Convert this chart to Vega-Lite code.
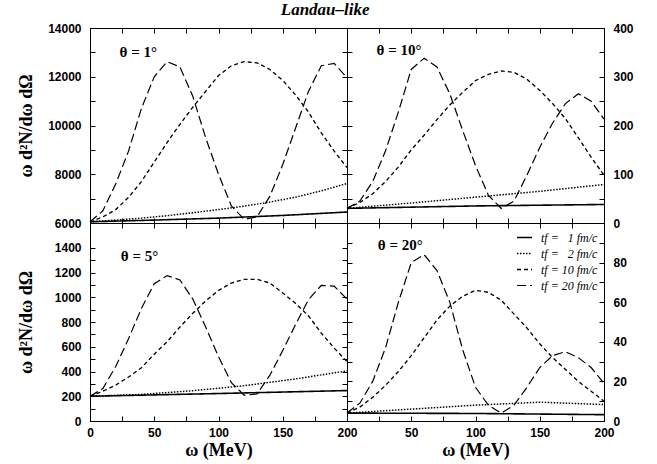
{
  "$schema": "https://vega.github.io/schema/vega-lite/v6.json",
  "padding": {"left": 16, "top": 0, "right": 5, "bottom": 5},
  "title": {"text": "Landau–like", "font": "Liberation Serif", "fontSize": 17, "fontWeight": "bold", "fontStyle": "italic", "color": "black", "anchor": "middle", "offset": 3},
  "datasets": {
    "d": [
      {"p":"1","tf":"20","w":0,"v":6050},{"p":"1","tf":"20","w":10,"v":6500},{"p":"1","tf":"20","w":20,"v":7600},{"p":"1","tf":"20","w":30,"v":8950},{"p":"1","tf":"20","w":40,"v":10700},{"p":"1","tf":"20","w":50,"v":12000},{"p":"1","tf":"20","w":60,"v":12620},{"p":"1","tf":"20","w":70,"v":12400},{"p":"1","tf":"20","w":80,"v":11200},{"p":"1","tf":"20","w":90,"v":9500},{"p":"1","tf":"20","w":100,"v":8000},{"p":"1","tf":"20","w":110,"v":6700},{"p":"1","tf":"20","w":120,"v":6150},{"p":"1","tf":"20","w":130,"v":6250},{"p":"1","tf":"20","w":140,"v":7100},{"p":"1","tf":"20","w":150,"v":8400},{"p":"1","tf":"20","w":160,"v":9900},{"p":"1","tf":"20","w":170,"v":11400},{"p":"1","tf":"20","w":180,"v":12450},{"p":"1","tf":"20","w":190,"v":12550},{"p":"1","tf":"20","w":200,"v":11950},
      {"p":"1","tf":"10","w":0,"v":6050},{"p":"1","tf":"10","w":10,"v":6250},{"p":"1","tf":"10","w":20,"v":6550},{"p":"1","tf":"10","w":30,"v":7050},{"p":"1","tf":"10","w":40,"v":7700},{"p":"1","tf":"10","w":50,"v":8500},{"p":"1","tf":"10","w":60,"v":9300},{"p":"1","tf":"10","w":70,"v":10050},{"p":"1","tf":"10","w":80,"v":10750},{"p":"1","tf":"10","w":90,"v":11400},{"p":"1","tf":"10","w":100,"v":12050},{"p":"1","tf":"10","w":110,"v":12450},{"p":"1","tf":"10","w":120,"v":12620},{"p":"1","tf":"10","w":130,"v":12570},{"p":"1","tf":"10","w":140,"v":12300},{"p":"1","tf":"10","w":150,"v":11850},{"p":"1","tf":"10","w":160,"v":11250},{"p":"1","tf":"10","w":170,"v":10550},{"p":"1","tf":"10","w":180,"v":9700},{"p":"1","tf":"10","w":190,"v":8950},{"p":"1","tf":"10","w":200,"v":8270},
      {"p":"1","tf":"2","w":0,"v":6050},{"p":"1","tf":"2","w":20,"v":6120},{"p":"1","tf":"2","w":40,"v":6200},{"p":"1","tf":"2","w":60,"v":6300},{"p":"1","tf":"2","w":80,"v":6420},{"p":"1","tf":"2","w":100,"v":6550},{"p":"1","tf":"2","w":120,"v":6690},{"p":"1","tf":"2","w":140,"v":6860},{"p":"1","tf":"2","w":160,"v":7060},{"p":"1","tf":"2","w":180,"v":7320},{"p":"1","tf":"2","w":200,"v":7620},
      {"p":"1","tf":"1","w":0,"v":6050},{"p":"1","tf":"1","w":50,"v":6120},{"p":"1","tf":"1","w":100,"v":6200},{"p":"1","tf":"1","w":150,"v":6310},{"p":"1","tf":"1","w":200,"v":6450},

      {"p":"10","tf":"20","w":0,"v":30},{"p":"10","tf":"20","w":10,"v":45},{"p":"10","tf":"20","w":20,"v":85},{"p":"10","tf":"20","w":30,"v":148},{"p":"10","tf":"20","w":40,"v":228},{"p":"10","tf":"20","w":50,"v":315},{"p":"10","tf":"20","w":60,"v":338},{"p":"10","tf":"20","w":70,"v":320},{"p":"10","tf":"20","w":80,"v":265},{"p":"10","tf":"20","w":90,"v":190},{"p":"10","tf":"20","w":100,"v":118},{"p":"10","tf":"20","w":110,"v":57},{"p":"10","tf":"20","w":120,"v":30},{"p":"10","tf":"20","w":130,"v":45},{"p":"10","tf":"20","w":140,"v":98},{"p":"10","tf":"20","w":150,"v":155},{"p":"10","tf":"20","w":160,"v":205},{"p":"10","tf":"20","w":170,"v":245},{"p":"10","tf":"20","w":180,"v":265},{"p":"10","tf":"20","w":190,"v":250},{"p":"10","tf":"20","w":200,"v":213},
      {"p":"10","tf":"10","w":0,"v":30},{"p":"10","tf":"10","w":10,"v":42},{"p":"10","tf":"10","w":20,"v":60},{"p":"10","tf":"10","w":30,"v":85},{"p":"10","tf":"10","w":40,"v":115},{"p":"10","tf":"10","w":50,"v":150},{"p":"10","tf":"10","w":60,"v":180},{"p":"10","tf":"10","w":70,"v":212},{"p":"10","tf":"10","w":80,"v":242},{"p":"10","tf":"10","w":90,"v":268},{"p":"10","tf":"10","w":100,"v":292},{"p":"10","tf":"10","w":110,"v":305},{"p":"10","tf":"10","w":120,"v":312},{"p":"10","tf":"10","w":130,"v":309},{"p":"10","tf":"10","w":140,"v":295},{"p":"10","tf":"10","w":150,"v":272},{"p":"10","tf":"10","w":160,"v":245},{"p":"10","tf":"10","w":170,"v":214},{"p":"10","tf":"10","w":180,"v":175},{"p":"10","tf":"10","w":190,"v":135},{"p":"10","tf":"10","w":200,"v":98},
      {"p":"10","tf":"2","w":0,"v":30},{"p":"10","tf":"2","w":50,"v":41},{"p":"10","tf":"2","w":100,"v":53},{"p":"10","tf":"2","w":150,"v":65},{"p":"10","tf":"2","w":200,"v":79},
      {"p":"10","tf":"1","w":0,"v":30},{"p":"10","tf":"1","w":100,"v":35},{"p":"10","tf":"1","w":200,"v":38},

      {"p":"5","tf":"20","w":0,"v":200},{"p":"5","tf":"20","w":10,"v":262},{"p":"5","tf":"20","w":20,"v":440},{"p":"5","tf":"20","w":30,"v":665},{"p":"5","tf":"20","w":40,"v":910},{"p":"5","tf":"20","w":50,"v":1110},{"p":"5","tf":"20","w":60,"v":1175},{"p":"5","tf":"20","w":70,"v":1140},{"p":"5","tf":"20","w":80,"v":985},{"p":"5","tf":"20","w":90,"v":760},{"p":"5","tf":"20","w":100,"v":520},{"p":"5","tf":"20","w":110,"v":310},{"p":"5","tf":"20","w":120,"v":208},{"p":"5","tf":"20","w":130,"v":218},{"p":"5","tf":"20","w":140,"v":370},{"p":"5","tf":"20","w":150,"v":570},{"p":"5","tf":"20","w":160,"v":780},{"p":"5","tf":"20","w":170,"v":980},{"p":"5","tf":"20","w":180,"v":1096},{"p":"5","tf":"20","w":190,"v":1090},{"p":"5","tf":"20","w":200,"v":985},
      {"p":"5","tf":"10","w":0,"v":200},{"p":"5","tf":"10","w":10,"v":240},{"p":"5","tf":"10","w":20,"v":290},{"p":"5","tf":"10","w":30,"v":355},{"p":"5","tf":"10","w":40,"v":430},{"p":"5","tf":"10","w":50,"v":540},{"p":"5","tf":"10","w":60,"v":640},{"p":"5","tf":"10","w":70,"v":760},{"p":"5","tf":"10","w":80,"v":870},{"p":"5","tf":"10","w":90,"v":970},{"p":"5","tf":"10","w":100,"v":1055},{"p":"5","tf":"10","w":110,"v":1115},{"p":"5","tf":"10","w":120,"v":1145},{"p":"5","tf":"10","w":130,"v":1145},{"p":"5","tf":"10","w":140,"v":1115},{"p":"5","tf":"10","w":150,"v":1035},{"p":"5","tf":"10","w":160,"v":950},{"p":"5","tf":"10","w":170,"v":850},{"p":"5","tf":"10","w":180,"v":710},{"p":"5","tf":"10","w":190,"v":590},{"p":"5","tf":"10","w":200,"v":480},
      {"p":"5","tf":"2","w":0,"v":200},{"p":"5","tf":"2","w":40,"v":215},{"p":"5","tf":"2","w":80,"v":245},{"p":"5","tf":"2","w":120,"v":285},{"p":"5","tf":"2","w":160,"v":340},{"p":"5","tf":"2","w":200,"v":405},
      {"p":"5","tf":"1","w":0,"v":200},{"p":"5","tf":"1","w":100,"v":222},{"p":"5","tf":"1","w":200,"v":246},

      {"p":"20","tf":"20","w":0,"v":4},{"p":"20","tf":"20","w":10,"v":9},{"p":"20","tf":"20","w":20,"v":20},{"p":"20","tf":"20","w":30,"v":37},{"p":"20","tf":"20","w":40,"v":60},{"p":"20","tf":"20","w":50,"v":80},{"p":"20","tf":"20","w":60,"v":84},{"p":"20","tf":"20","w":70,"v":76},{"p":"20","tf":"20","w":80,"v":60},{"p":"20","tf":"20","w":90,"v":36},{"p":"20","tf":"20","w":100,"v":17},{"p":"20","tf":"20","w":110,"v":8},{"p":"20","tf":"20","w":120,"v":4},{"p":"20","tf":"20","w":130,"v":8},{"p":"20","tf":"20","w":140,"v":17},{"p":"20","tf":"20","w":150,"v":27},{"p":"20","tf":"20","w":160,"v":33},{"p":"20","tf":"20","w":170,"v":35},{"p":"20","tf":"20","w":180,"v":32},{"p":"20","tf":"20","w":190,"v":27},{"p":"20","tf":"20","w":200,"v":19},
      {"p":"20","tf":"10","w":0,"v":4},{"p":"20","tf":"10","w":10,"v":7},{"p":"20","tf":"10","w":20,"v":12},{"p":"20","tf":"10","w":30,"v":18},{"p":"20","tf":"10","w":40,"v":25},{"p":"20","tf":"10","w":50,"v":33},{"p":"20","tf":"10","w":60,"v":42},{"p":"20","tf":"10","w":70,"v":51},{"p":"20","tf":"10","w":80,"v":58},{"p":"20","tf":"10","w":90,"v":63},{"p":"20","tf":"10","w":100,"v":66},{"p":"20","tf":"10","w":110,"v":65},{"p":"20","tf":"10","w":120,"v":61},{"p":"20","tf":"10","w":130,"v":54},{"p":"20","tf":"10","w":140,"v":47},{"p":"20","tf":"10","w":150,"v":39},{"p":"20","tf":"10","w":160,"v":32},{"p":"20","tf":"10","w":170,"v":26},{"p":"20","tf":"10","w":180,"v":20},{"p":"20","tf":"10","w":190,"v":15},{"p":"20","tf":"10","w":200,"v":10},
      {"p":"20","tf":"2","w":0,"v":4},{"p":"20","tf":"2","w":50,"v":6},{"p":"20","tf":"2","w":100,"v":8},{"p":"20","tf":"2","w":150,"v":9.5},{"p":"20","tf":"2","w":200,"v":8.3},
      {"p":"20","tf":"1","w":0,"v":4},{"p":"20","tf":"1","w":100,"v":3.8},{"p":"20","tf":"1","w":200,"v":3.2}
    ]
  },
  "spacing": 0,
  "bounds": "flush",
  "columns": 2,
  "resolve": {"scale": {"strokeDash": "independent", "strokeWidth": "independent"}},
  "concat": [
        {
          "width": 257, "height": 195,
          "resolve": {"axis": {"x": "independent", "y": "independent"}},
          "layer": [
            {
              "data": {"name": "d"},
              "transform": [{"filter": "datum.p == '1'"}],
              "mark": {"type": "line", "color": "black"},
              "encoding": {
                "x": {"field": "w", "type": "quantitative", "scale": {"domain": [0, 200]}, "axis": {"orient": "bottom", "labels": false, "title": null, "values": [0,25,50,75,100,125,150,175,200]}},
                "y": {"field": "v", "type": "quantitative", "scale": {"domain": [6000, 14000]}, "axis": {"orient": "left", "title": "ω d²N/dω dΩ", "titlePadding": 12, "values": [6000,7000,8000,9000,10000,11000,12000,13000,14000], "labelExpr": "datum.value % 2000 == 0 ? datum.label : ''", "format": "d"}},
                "strokeDash": {"field": "tf", "type": "nominal", "scale": {"domain": ["1","2","10","20"], "range": [[1,0],[1.5,1.5],[4,3],[9,4]]}, "legend": null},
                "strokeWidth": {"field": "tf", "type": "nominal", "scale": {"domain": ["1","2","10","20"], "range": [1.6,1.2,1.2,1.3]}, "legend": null}
              }
            },
            {
              "data": {"values": [{"w": 23, "v": 12800, "t": "θ = 1°"}]},
              "mark": {"type": "text", "align": "left", "baseline": "alphabetic", "font": "Liberation Serif", "fontSize": 15, "fontWeight": "bold", "color": "black"},
              "encoding": {
                "x": {"field": "w", "type": "quantitative", "axis": {"orient": "top", "labels": false, "title": null, "values": [0,25,50,75,100,125,150,175,200]}},
                "y": {"field": "v", "type": "quantitative", "axis": {"orient": "right", "labels": false, "title": null, "values": [6000,7000,8000,9000,10000,11000,12000,13000,14000]}},
                "text": {"field": "t"}
              }
            }
          ]
        },
        {
          "width": 257, "height": 195,
          "resolve": {"axis": {"x": "independent", "y": "independent"}},
          "layer": [
            {
              "data": {"name": "d"},
              "transform": [{"filter": "datum.p == '10'"}],
              "mark": {"type": "line", "color": "black"},
              "encoding": {
                "x": {"field": "w", "type": "quantitative", "scale": {"domain": [0, 200]}, "axis": {"orient": "bottom", "labels": false, "title": null, "values": [0,25,50,75,100,125,150,175,200]}},
                "y": {"field": "v", "type": "quantitative", "scale": {"domain": [0, 400]}, "axis": {"orient": "right", "title": null, "values": [0,50,100,150,200,250,300,350,400], "labelExpr": "datum.value % 100 == 0 ? datum.label : ''"}},
                "strokeDash": {"field": "tf", "type": "nominal", "scale": {"domain": ["1","2","10","20"], "range": [[1,0],[1.5,1.5],[4,3],[9,4]]}, "legend": null},
                "strokeWidth": {"field": "tf", "type": "nominal", "scale": {"domain": ["1","2","10","20"], "range": [1.6,1.2,1.2,1.3]}, "legend": null}
              }
            },
            {
              "data": {"values": [{"w": 23, "v": 344, "t": "θ = 10°"}]},
              "mark": {"type": "text", "align": "left", "baseline": "alphabetic", "font": "Liberation Serif", "fontSize": 15, "fontWeight": "bold", "color": "black"},
              "encoding": {
                "x": {"field": "w", "type": "quantitative", "axis": {"orient": "top", "labels": false, "title": null, "values": [0,25,50,75,100,125,150,175,200]}},
                "y": {"field": "v", "type": "quantitative", "axis": {"orient": "left", "labels": false, "title": null, "values": [0,50,100,150,200,250,300,350,400]}},
                "text": {"field": "t"}
              }
            }
          ]
        },
        {
          "width": 257, "height": 198,
          "resolve": {"axis": {"x": "independent", "y": "independent"}},
          "layer": [
            {
              "data": {"name": "d"},
              "transform": [{"filter": "datum.p == '5'"}],
              "mark": {"type": "line", "color": "black"},
              "encoding": {
                "x": {"field": "w", "type": "quantitative", "scale": {"domain": [0, 200]}, "axis": {"orient": "bottom", "title": "ω (MeV)", "titlePadding": 3, "values": [0,25,50,75,100,125,150,175,200], "labelExpr": "datum.value % 50 == 0 ? datum.label : ''"}},
                "y": {"field": "v", "type": "quantitative", "scale": {"domain": [0, 1500]}, "axis": {"orient": "left", "title": "ω d²N/dω dΩ", "titlePadding": 19, "values": [0,100,200,300,400,500,600,700,800,900,1000,1100,1200,1300,1400], "labelExpr": "datum.value % 200 == 0 ? datum.label : ''", "format": "d"}},
                "strokeDash": {"field": "tf", "type": "nominal", "scale": {"domain": ["1","2","10","20"], "range": [[1,0],[1.5,1.5],[4,3],[9,4]]}, "legend": null},
                "strokeWidth": {"field": "tf", "type": "nominal", "scale": {"domain": ["1","2","10","20"], "range": [1.6,1.2,1.2,1.3]}, "legend": null}
              }
            },
            {
              "data": {"values": [{"w": 24, "v": 1294, "t": "θ = 5°"}]},
              "mark": {"type": "text", "align": "left", "baseline": "alphabetic", "font": "Liberation Serif", "fontSize": 15, "fontWeight": "bold", "color": "black"},
              "encoding": {
                "x": {"field": "w", "type": "quantitative", "axis": {"orient": "top", "labels": false, "title": null, "values": [0,25,50,75,100,125,150,175,200]}},
                "y": {"field": "v", "type": "quantitative", "axis": {"orient": "right", "labels": false, "title": null, "values": [0,100,200,300,400,500,600,700,800,900,1000,1100,1200,1300,1400]}},
                "text": {"field": "t"}
              }
            }
          ]
        },
        {
          "width": 257, "height": 198,
          "resolve": {"axis": {"x": "independent", "y": "independent"}},
          "layer": [
            {
              "data": {"name": "d"},
              "transform": [{"filter": "datum.p == '20'"}],
              "mark": {"type": "line", "color": "black"},
              "encoding": {
                "x": {"field": "w", "type": "quantitative", "scale": {"domain": [0, 200]}, "axis": {"orient": "bottom", "title": "ω (MeV)", "titlePadding": 3, "values": [0,25,50,75,100,125,150,175,200], "labelExpr": "datum.value % 50 == 0 && datum.value > 0 ? datum.label : ''"}},
                "y": {"field": "v", "type": "quantitative", "scale": {"domain": [0, 100]}, "axis": {"orient": "right", "title": null, "values": [0,10,20,30,40,50,60,70,80,90], "labelExpr": "datum.value % 20 == 0 ? datum.label : ''"}},
                "strokeDash": {"field": "tf", "type": "nominal", "scale": {"domain": ["1","2","10","20"], "range": [[1,0],[1.5,1.5],[4,3],[9,4]]}, "legend": {"orient": "top-right", "offset": 6, "title": null, "padding": 0, "symbolType": "stroke", "symbolSize": 225, "symbolStrokeColor": "black", "symbolStrokeWidth": 1.3, "labelFont": "Liberation Serif", "labelFontStyle": "italic", "labelFontSize": 12, "labelColor": "black", "labelOffset": 8, "rowPadding": 1, "labelExpr": "'tf = ' + (datum.value == '1' || datum.value == '2' ? '\u2007' : '') + datum.value + ' fm/c'"}},
                "strokeWidth": {"field": "tf", "type": "nominal", "scale": {"domain": ["1","2","10","20"], "range": [1.6,1.2,1.2,1.3]}, "legend": null}
              }
            },
            {
              "data": {"values": [{"w": 24, "v": 86.3, "t": "θ = 20°"}]},
              "mark": {"type": "text", "align": "left", "baseline": "alphabetic", "font": "Liberation Serif", "fontSize": 15, "fontWeight": "bold", "color": "black"},
              "encoding": {
                "x": {"field": "w", "type": "quantitative", "axis": {"orient": "top", "labels": false, "title": null, "values": [0,25,50,75,100,125,150,175,200]}},
                "y": {"field": "v", "type": "quantitative", "axis": {"orient": "left", "labels": false, "title": null, "values": [0,10,20,30,40,50,60,70,80,90]}},
                "text": {"field": "t"}
              }
            }
          ]
        }
  ],
  "config": {
    "background": "white",
    "view": {"stroke": "black", "strokeWidth": 1},
    "axis": {"domainColor": "black", "domainWidth": 1, "tickColor": "black", "tickWidth": 1, "tickSize": -5, "grid": false, "labelOverlap": false, "labelFlush": false, "labelColor": "black", "labelFont": "Liberation Sans", "labelFontWeight": "bold", "labelFontSize": 12, "titleFont": "Liberation Serif", "titleFontWeight": "bold", "titleFontSize": 18, "titleColor": "black"},
    "axisX": {"labelPadding": 11},
    "axisY": {"labelPadding": 14}
  }
}
